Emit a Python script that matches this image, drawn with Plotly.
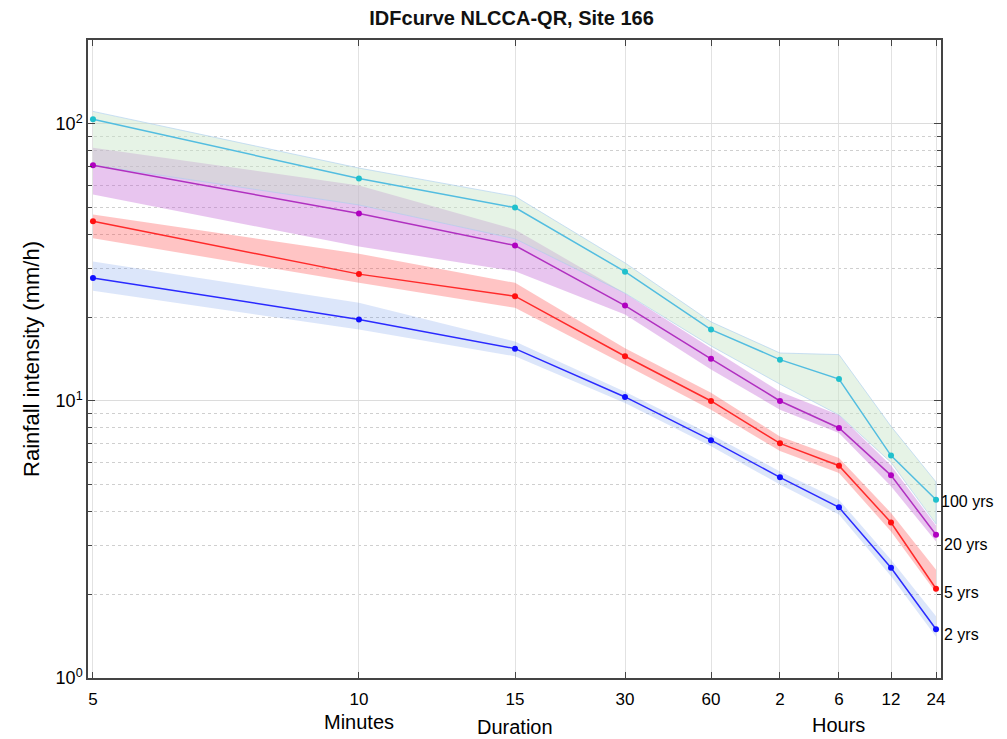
import math
import plotly.graph_objects as go

# ---- data -------------------------------------------------------------
duration_labels = ["5", "10", "15", "30", "60", "2", "6", "12", "24"]
# custom (non-linear) duration scale used by the original figure, 0..1
duration_scale = [0.0, 0.3155, 0.5006, 0.6311, 0.7331, 0.8149, 0.8849, 0.9466, 1.0]

return_periods = ["100 yrs", "20 yrs", "5 yrs", "2 yrs"]

i100 = [104, 63.5, 49.9, 29.3, 18.1, 14.1, 12.0, 6.35, 4.40]
i100_hi = [111, 69.3, 54.8, 31.5, 19.3, 14.9, 14.7, 8.1, 5.1]
i100_lo = [71, 51, 38.5, 24.5, 15.8, 11.5, 8.9, 6.0, 3.6]

i20 = [70.9, 47.5, 36.4, 22.1, 14.2, 10.0, 7.99, 5.39, 3.29]
i20_hi = [82, 60, 41.6, 24.5, 15.5, 10.8, 8.9, 5.85, 3.55]
i20_lo = [55.6, 36.1, 29.4, 20.5, 13.0, 9.3, 7.66, 4.92, 3.11]

i5 = [44.5, 28.7, 23.9, 14.5, 10.0, 7.03, 5.84, 3.64, 2.10]
i5_hi = [47.1, 34, 26.7, 15.5, 10.7, 7.45, 6.23, 3.94, 2.46]
i5_lo = [38.7, 26.7, 21.7, 13.5, 9.3, 6.6, 5.5, 3.38, 2.03]

i2 = [27.8, 19.7, 15.45, 10.34, 7.22, 5.3, 4.13, 2.50, 1.50]
i2_hi = [31.9, 22.6, 16.4, 10.8, 7.56, 5.57, 4.4, 2.67, 1.67]
i2_lo = [25.0, 18.1, 14.5, 9.84, 6.86, 4.99, 3.89, 2.33, 1.41]

# ---- styles -----------------------------------------------------------
series = [
    # name, values, hi, lo, line colour, marker colour, band fill, band edge, label yshift
    ("2 yrs", i2, i2_hi, i2_lo, "#2a2aff", "#1010ff", "rgba(80,130,230,0.2)", "rgba(80,130,230,0)", -5),
    ("5 yrs", i5, i5_hi, i5_lo, "#ff2a2a", "#ff1010", "rgba(255,60,60,0.3)", "rgba(255,60,60,0)", -4),
    ("20 yrs", i20, i20_hi, i20_lo, "#b030c0", "#b000c0", "rgba(190,90,210,0.35)", "rgba(190,90,210,0)", -10),
    ("100 yrs", i100, i100_hi, i100_lo, "#52bde0", "#20c0cc", "rgba(200,228,200,0.45)", "rgba(170,205,240,0.6)", -2),
]

FONT = "Liberation Sans, Arial, Helvetica, sans-serif"

fig = go.Figure()

# confidence bands
for name, v, hi, lo, lc, mc, fc, ec, _ in series:
    fig.add_trace(go.Scatter(
        x=duration_scale + duration_scale[::-1],
        y=hi + lo[::-1],
        fill="toself", fillcolor=fc,
        line=dict(color=ec, width=1),
        mode="lines", hoverinfo="skip", showlegend=False,
    ))

# median curves
for name, v, hi, lo, lc, mc, fc, ec, _ in series:
    fig.add_trace(go.Scatter(
        x=duration_scale, y=v, mode="lines+markers",
        line=dict(color=lc, width=1.5),
        marker=dict(color=mc, size=6),
        name=name, showlegend=False,
    ))

# end labels (annotation y on a log axis is given in log10 units)
for name, v, hi, lo, lc, mc, fc, ec, ys in series:
    fig.add_annotation(
        x=duration_scale[-1], y=math.log10(v[-1]), yref="y", xref="x",
        text=name, showarrow=False, xanchor="left", yanchor="middle",
        xshift=3 if name == "100 yrs" else 6, yshift=ys,
        font=dict(family=FONT, size=16, color="black"),
    )

# x-axis group labels
for txt, idx, ypos in [("Minutes", 1, -0.069), ("Duration", 2, -0.077), ("Hours", 6, -0.074)]:
    fig.add_annotation(
        x=duration_scale[idx], y=ypos, xref="x", yref="paper",
        text=txt, showarrow=False, xanchor="center", yanchor="middle",
        font=dict(family=FONT, size=20, color="black"),
    )

minor_vals = [m * d for d in (1, 10, 100) for m in range(2, 10)] + [200]

fig.update_layout(
    width=1007, height=739,
    margin=dict(l=88, r=66, t=40, b=61),
    paper_bgcolor="white", plot_bgcolor="white",
    title=dict(text="<b>IDFcurve NLCCA-QR, Site 166</b>", x=0.508, xanchor="center",
               y=0.975, yanchor="middle",
               font=dict(family=FONT, size=20, color="#111")),
    font=dict(family=FONT, size=17, color="black"),
    xaxis=dict(
        range=[-0.0059, 1.0059],
        tickvals=duration_scale, ticktext=duration_labels,
        ticks="inside", ticklen=6, tickcolor="#444", tickwidth=1,
        showline=True, linecolor="#444", linewidth=1.5, mirror="allticks",
        showgrid=True, gridcolor="#e2e2e2", gridwidth=1,
        zeroline=False, tickfont=dict(family=FONT, size=17),
        ticklabelstandoff=5,
    ),
    yaxis=dict(
        type="log", range=[0, 2.303],
        tickvals=[1, 10, 100],
        ticktext=["10<sup>0</sup>", "10<sup>1</sup>", "10<sup>2</sup>"],
        ticks="inside", ticklen=7, tickcolor="#444", tickwidth=1,
        showline=True, linecolor="#444", linewidth=1.5, mirror="allticks",
        showgrid=True, gridcolor="#dcdcdc", gridwidth=1,
        zeroline=False, tickfont=dict(family=FONT, size=18),
        minor=dict(tickvals=minor_vals, ticks="inside", ticklen=4, tickcolor="#444",
                   showgrid=True, gridcolor="#cfcfcf", griddash="dot", gridwidth=1),
        title=dict(text="Rainfall intensity (mm/h)", standoff=10,
                   font=dict(family=FONT, size=22)),
    ),
    hovermode=False,
)

fig.write_html("out.html")
